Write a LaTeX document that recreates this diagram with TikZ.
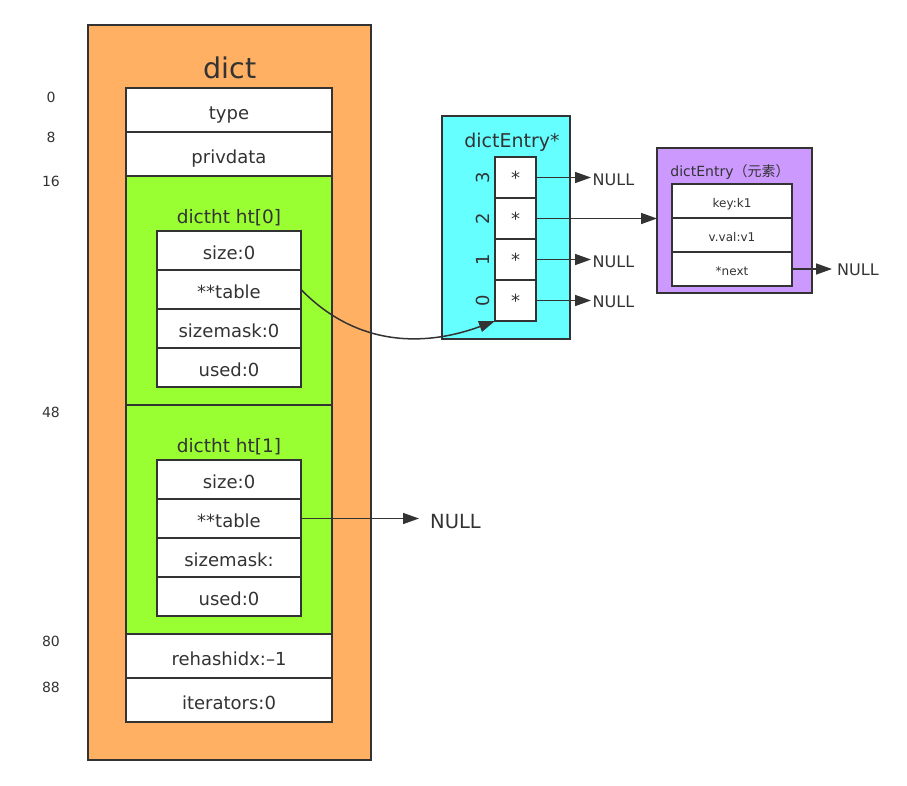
\documentclass[tikz,border=0pt]{standalone}
\usepackage{fontspec}
\setmainfont{DejaVu Sans}
\newfontfamily\cjk{Noto Sans CJK SC}
\usetikzlibrary{arrows.meta}
\definecolor{dictorange}{HTML}{FFB062}
\definecolor{htgreen}{HTML}{99FF33}
\definecolor{entcyan}{HTML}{66FFFF}
\definecolor{entpurple}{HTML}{CC99FF}
\definecolor{ink}{HTML}{333333}
\newcommand{\fs}[1]{\fontsize{#1}{#1}\selectfont}
\tikzset{
  box/.style={draw=ink, line width=1.8pt, inner sep=0pt, outer sep=0pt},
  field/.style={box, fill=white, text=ink, font=\fs{18}, text height=18pt, text depth=0pt},
  smallfield/.style={box, fill=white, text=ink, font=\fs{12}, text height=12pt, text depth=0pt},
  cell/.style={box, fill=white, text=ink, font=\fs{18}, minimum width=41, minimum height=41},
  offs/.style={text=ink, font=\fs{14}, inner sep=0pt, anchor=base},
  title/.style={text=ink, inner sep=0pt, anchor=base},
  nulltxt/.style={text=ink, inner ysep=0pt, anchor=base west},
  ptr/.style={draw=ink, line width=1.5pt, -{Triangle[length=16pt,width=11pt]}},
}
\begin{document}
\begin{tikzpicture}[x=1pt,y=-1pt]
\useasboundingbox (0,0) rectangle (907,785);
% dict outer box
\node[box, fill=dictorange, minimum width=283, minimum height=735] (dict) at (229.5,392.5) {};
\node[title, font=\fs{28.5}] (dictt) at (230,78) {dict};
\node[field, minimum width=206, minimum height=44] (type) at (229,110) {type};
\node[field, minimum width=206, minimum height=44] (priv) at (229,154) {privdata};
\node[box, fill=htgreen, minimum width=206, minimum height=229] (ht0) at (229,290.5) {};
\node[box, fill=htgreen, minimum width=206, minimum height=229] (ht1) at (229,519.5) {};
\node[field, minimum width=206, minimum height=44] (rehash) at (229,656) {rehashidx:–1};
\node[field, minimum width=206, minimum height=44] (iter) at (229,700) {iterators:0};
% ht[0]
\node[title, font=\fs{18.5}] (ht0t) at (229,223) {dictht ht[0]};
\node[field, minimum width=144, minimum height=39] (s0) at (229,250.5) {size:0};
\node[field, minimum width=144, minimum height=39] (t0) at (229,289.5) {**table};
\node[field, minimum width=144, minimum height=39] (m0) at (229,328.5) {sizemask:0};
\node[field, minimum width=144, minimum height=39] (u0) at (229,367.5) {used:0};
% ht[1]
\node[title, font=\fs{18.5}] (ht1t) at (229,452.5) {dictht ht[1]};
\node[field, minimum width=144, minimum height=39] (s1) at (229,479.5) {size:0};
\node[field, minimum width=144, minimum height=39] (t1) at (229,518.5) {**table};
\node[field, minimum width=144, minimum height=39] (m1) at (229,557.5) {sizemask:};
\node[field, minimum width=144, minimum height=39] (u1) at (229,596.5) {used:0};
% offsets
\node[offs] (o0) at (51,102) {0};
\node[offs] (o8) at (51,142) {8};
\node[offs] (o16) at (51,186) {16};
\node[offs] (o48) at (51,417) {48};
\node[offs] (o80) at (51,646) {80};
\node[offs] (o88) at (51,692) {88};
% NULL for ht[1]
\node[nulltxt, font=\fs{19.5}, inner xsep=11pt] (nullB) at (419,528) {NULL};
\draw[ptr] (t1.east) -- (t1.east -| nullB.west);
% dictEntry* array
\node[box, fill=entcyan, minimum width=128, minimum height=223] (arr) at (506,227.5) {};
\node[title, font=\fs{19}] (arrt) at (512,147) {dictEntry*};
\node[cell] (c3) at (515.5,177.5) {*};
\node[cell] (c2) at (515.5,218.5) {*};
\node[cell] (c1) at (515.5,259.5) {*};
\node[cell] (c0) at (515.5,300.5) {*};
\node[text=ink, inner sep=0pt, font=\fs{18}, rotate=90] (i3) at (483,177.5) {3};
\node[text=ink, inner sep=0pt, font=\fs{18}, rotate=90] (i2) at (483,218.5) {2};
\node[text=ink, inner sep=0pt, font=\fs{18}, rotate=90] (i1) at (483,259.5) {1};
\node[text=ink, inner sep=0pt, font=\fs{18}, rotate=90] (i0) at (483,300.5) {0};
\node[nulltxt, font=\fs{16}, inner xsep=1.5pt] (n3) at (591,185) {NULL};
\node[nulltxt, font=\fs{16}, inner xsep=1.5pt] (n1) at (591,267) {NULL};
\node[nulltxt, font=\fs{16}, inner xsep=1.5pt] (n0) at (591,307) {NULL};
\draw[ptr] (c3.east) -- (c3.east -| n3.west);
\draw[ptr] (c1.east) -- (c1.east -| n1.west);
\draw[ptr] (c0.east) -- (c0.east -| n0.west);
% dictEntry element
\node[box, fill=entpurple, minimum width=155, minimum height=145] (ent) at (734.5,220.5) {};
\node[title, font=\fs{14}] (entt) at (730,176) {dictEntry{\cjk （元素）}};
\node[smallfield, minimum width=120, minimum height=34] (key) at (732,201) {key:k1};
\node[smallfield, minimum width=120, minimum height=34] (val) at (732,235) {v.val:v1};
\node[smallfield, minimum width=120, minimum height=34] (nxt) at (732,269) {*next};
\node[nulltxt, font=\fs{16}, inner xsep=5pt] (nE) at (832,275) {NULL};
\draw[ptr] (nxt.east) -- (nxt.east -| nE.west);
\draw[ptr] (c2.east) -- (c2.east -| ent.west);
% curve from ht[0] table to bucket 0
\draw[ptr] (t0.east) .. controls (360,350) and (430,345) .. (c0.south west);
\end{tikzpicture}
\end{document}
